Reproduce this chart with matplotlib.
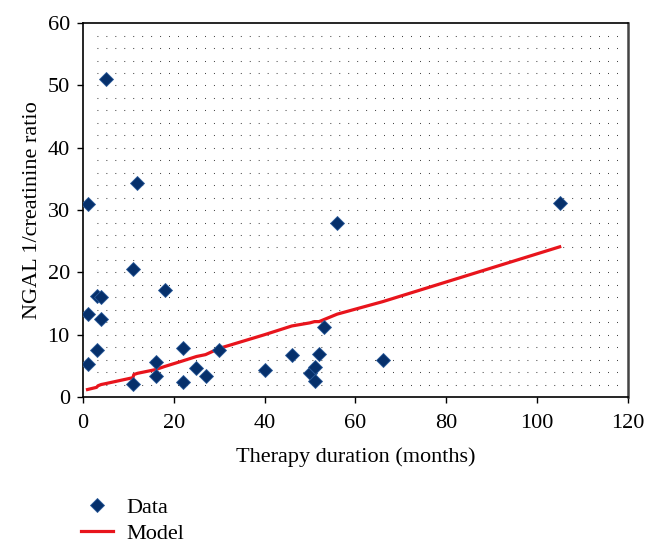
import numpy as np
import matplotlib
matplotlib.use("Agg")
import matplotlib.pyplot as plt

therapy_months = [1, 1, 1, 3, 3, 4, 4, 5, 11, 11, 12, 16, 16, 18, 22, 22,
                  25, 27, 30, 40, 46, 50, 51, 51, 52, 53, 56, 66, 105]
ngal_ratio = [31.0, 13.3, 5.3, 16.2, 7.5, 16.0, 12.5, 51.1, 20.6, 2.1, 34.3,
              5.6, 3.4, 17.2, 7.8, 2.4, 4.7, 3.3, 7.6, 4.3, 6.8, 3.8, 4.8,
              2.6, 6.9, 11.3, 28.0, 6.0, 31.2]

# Modellkurve
model_x = [1, 3, 3.3, 4, 5, 11, 11.2, 12, 16, 18, 22, 25, 27, 30, 40, 46,
           50, 51, 52, 53, 56, 66, 105]
model_y = [1.2, 1.55, 1.8, 2.0, 2.15, 3.1, 3.6, 3.8, 4.4, 4.9, 5.8, 6.5,
           6.8, 7.8, 10.0, 11.4, 11.9, 12.1, 12.1, 12.4, 13.3, 15.3, 24.1]

x_ticks = [0, 20, 40, 60, 80, 100, 120]
y_ticks = [0, 10, 20, 30, 40, 50, 60]

plt.rcParams['font.family'] = ['Liberation Serif', 'DejaVu Serif']

fig = plt.figure(figsize=(6.56, 5.51), dpi=100)
ax = fig.add_axes([0.1265, 0.2795, 0.957 - 0.1265, 0.958 - 0.2795])

# gepunktetes Hilfsgitter
for yv in np.arange(2, 60, 2):
    ax.axhline(yv, xmin=0.025, xmax=0.99, color='#222222', lw=0.75,
               linestyle=(0, (0.8, 7.8)), zorder=0)

ax.plot(model_x, model_y, color='#e8141c', lw=2.3, label='Model', zorder=2)
ax.plot(therapy_months, ngal_ratio, linestyle='none', marker='D', ms=7.5,
        color='#06306b', markeredgecolor='#2a5a9a', markeredgewidth=0.6,
        label='Data', zorder=3)

ax.set_xlim(0, 120)
ax.set_ylim(0, 60)
ax.set_xticks(x_ticks)
ax.set_yticks(y_ticks)
ax.tick_params(labelsize=16, length=4.5, width=1, direction='out', pad=5)
ax.tick_params(axis='x', pad=8)
ax.set_xlabel("Therapy duration (months)", fontsize=16, labelpad=10)
ax.set_ylabel("NGAL 1/creatinine ratio", fontsize=16, labelpad=4)
for side in ['top', 'left', 'bottom']:
    ax.spines[side].set_linewidth(1.2)
ax.spines['right'].set_linewidth(1.8)
ax.spines['right'].set_color('#444444')

handles, labels = ax.get_legend_handles_labels()
fig.legend(handles[::-1], labels[::-1], loc='upper left',
           bbox_to_anchor=(0.1235, 0.097), frameon=False, fontsize=16,
           handlelength=1.45, handletextpad=0.6, labelspacing=0.25,
           borderpad=0, borderaxespad=0)

fig.savefig("out.png", dpi=100)
